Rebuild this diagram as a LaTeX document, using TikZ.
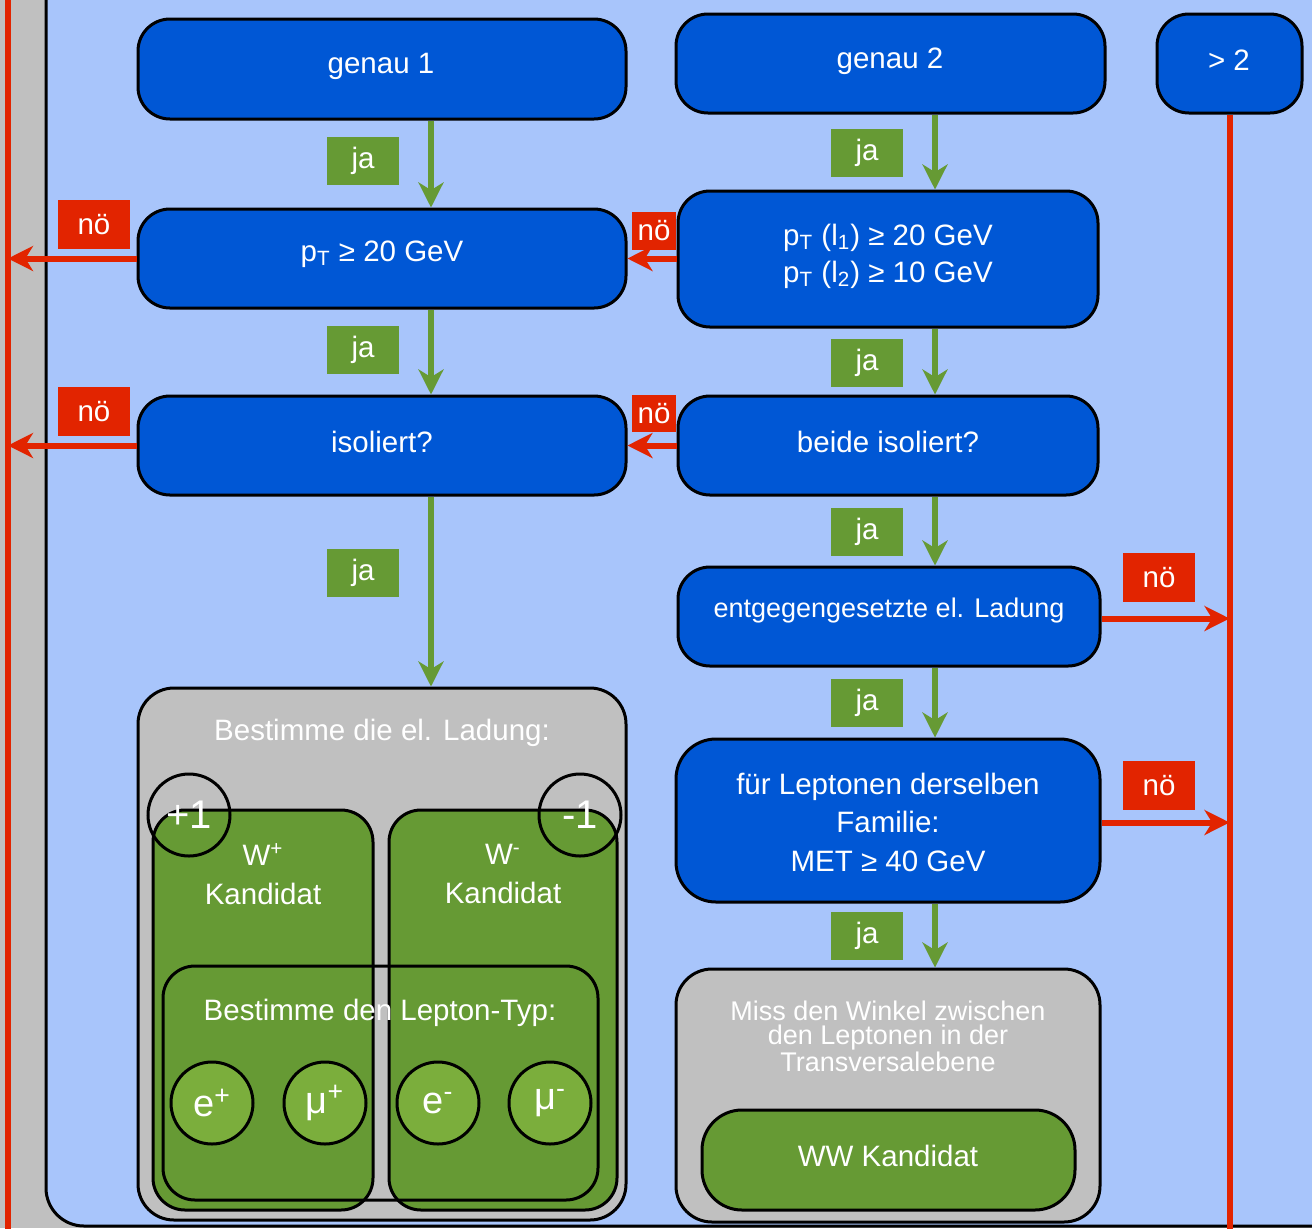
\documentclass[tikz,border=0pt]{standalone}
\usepackage{fontspec}
\setmainfont{Liberation Sans}
\usetikzlibrary{arrows.meta}
\definecolor{bgblue}{HTML}{A8C5FB}
\definecolor{nblue}{HTML}{0057D5}
\definecolor{ngreen}{HTML}{669A34}
\definecolor{lgreen}{HTML}{7BAE3C}
\definecolor{nred}{HTML}{E22400}
\definecolor{ngrey}{HTML}{C0C0C0}
\begin{document}
\begin{tikzpicture}[x=0.5pt,y=-0.5pt,
  box/.style={draw=black, line width=1.5pt, rounded corners=16pt, inner sep=0pt},
  bluebox/.style={box, fill=nblue},
  greybox/.style={box, fill=ngrey, rounded corners=18pt},
  greenbox/.style={box, fill=ngreen},
  openbox/.style={box},
  btext/.style={text=white, font=\fontsize{14.75}{19.25}\selectfont, align=center, inner sep=0pt},
  jalabel/.style={fill=ngreen, text=white, font=\fontsize{14.75}{17}\selectfont, minimum width=36pt, minimum height=24pt, inner sep=0pt},
  nolabel/.style={fill=nred, text=white, font=\fontsize{14.75}{17}\selectfont, minimum width=36pt, minimum height=24.5pt, inner sep=0pt},
  smallno/.style={fill=nred, text=white, font=\fontsize{14.75}{17}\selectfont, minimum width=22pt, minimum height=19pt, inner sep=0pt},
  ring/.style={circle, draw=black, line width=1.5pt, minimum size=41pt, inner sep=0pt, text=white, font=\fontsize{20}{22}\selectfont},
  lepton/.style={ring, fill=lgreen, font=\fontsize{19}{21}\selectfont},
  tip/.style={-{Stealth[length=12.5pt,width=12.5pt,inset=3.8pt]}},
  garrow/.style={tip, draw=ngreen, line width=3pt},
  rarrow/.style={tip, draw=nred, line width=3pt},
  rline/.style={draw=nred, line width=3pt}
]
\useasboundingbox (0,0) rectangle (1312,1228);
\clip (0,0) rectangle (1312,1228);
\fill[ngrey] (0,0) rectangle (1312,1228);
% main frame
\draw[line width=1.5pt, fill=bgblue, rounded corners=19pt] (46,-80) rectangle (1420,1226);

\coordinate (Ltop) at (8,-10);
\coordinate (Lbot) at (8,1240);
\coordinate (cl) at (431,0);
\coordinate (cr) at (935,0);
\draw[rline] (Ltop) -- (Lbot);

% left lower grey box
\node[greybox, minimum width=244pt, minimum height=266pt] (best) at (382,954) {};
\node[btext] at (382,733) {Bestimme die el. Ladung:};
\node[greenbox, minimum width=110pt, minimum height=200pt] (wp) at (263,1010) {};
\node[greenbox, minimum width=114pt, minimum height=200pt] (wm) at (503,1010) {};
\node[btext] at (263,874) {W\textsuperscript{+}\\Kandidat};
\node[btext] at (503,874) {W\textsuperscript{-}\\Kandidat};
\node[openbox, minimum width=217.5pt, minimum height=117pt] (lep) at (380.5,1083) {};
\node[btext] at (380,1013) {Bestimme den Lepton-Typ:};
\node[ring] (cp) at (189,815) {+1};
\node[ring] (cm) at (580,815) {-1};
\node[lepton] (ep) at (212,1103) {e\textsuperscript{+}};
\node[lepton] (mp) at (325,1103) {μ\textsuperscript{+}};
\node[lepton] (em) at (438,1103) {e\textsuperscript{-}};
\node[lepton] (mm) at (550,1103) {μ\textsuperscript{-}};

% right lower grey box
\node[greybox, minimum width=212pt, minimum height=126.5pt] (miss) at (888,1095.5) {};
\node[btext, font=\fontsize{13.5}{12}\selectfont] at (888,1036) {Miss den Winkel zwischen\\den Leptonen in der\\Transversalebene};
\node[greenbox, rounded corners=20pt, minimum width=186.5pt, minimum height=50pt] (ww) at (888.5,1160) {};
\node[btext] at (888,1156) {WW Kandidat};

% blue boxes
\node[bluebox, minimum width=244pt, minimum height=50pt] (g1) at (382,69) {};
\node[btext] at (381,66) {genau 1};
\node[bluebox, minimum width=214.5pt, minimum height=49.5pt] (g2) at (890.5,63.5) {};
\node[btext] at (890,61) {genau 2};
\node[bluebox, minimum width=72.5pt, minimum height=49.5pt] (g3) at (1229.5,63.5) {};
\node[btext] at (1229,60) {> 2};
\node[bluebox, minimum width=244pt, minimum height=49.5pt] (pt1) at (382,258.5) {};
\node[btext] at (382,254) {p\textsubscript{T} ≥ 20 GeV};
\node[bluebox, minimum width=210pt, minimum height=68pt] (pt2) at (888,259) {};
\node[btext, font=\fontsize{14.75}{18.5}\selectfont] at (888,256) {p\textsubscript{T} (l\textsubscript{1}) ≥ 20 GeV\\p\textsubscript{T} (l\textsubscript{2}) ≥ 10 GeV};
\node[bluebox, minimum width=244pt, minimum height=49.5pt] (iso1) at (382,445.5) {};
\node[btext] at (382,442) {isoliert?};
\node[bluebox, minimum width=210pt, minimum height=49.5pt] (iso2) at (888,445.5) {};
\node[btext] at (888,442) {beide isoliert?};
\node[bluebox, minimum width=211pt, minimum height=49.5pt] (lad) at (889,616.5) {};
\node[btext, font=\fontsize{13.5}{16}\selectfont] at (889,611) {entgegengesetzte el. Ladung};
\node[bluebox, rounded corners=20pt, minimum width=212pt, minimum height=81.5pt] (fam) at (888,820.5) {};
\node[btext] at (888,822) {für Leptonen derselben\\Familie:\\MET ≥ 40 GeV};

% green arrows
\draw[garrow] (g1.south -| cl) -- (pt1.north -| cl);
\draw[garrow] (pt1.south -| cl) -- (iso1.north -| cl);
\draw[garrow] (iso1.south -| cl) -- (best.north -| cl);
\draw[garrow] (g2.south -| cr) -- (pt2.north -| cr);
\draw[garrow] (pt2.south -| cr) -- (iso2.north -| cr);
\draw[garrow] (iso2.south -| cr) -- (lad.north -| cr);
\draw[garrow] (lad.south -| cr) -- (fam.north -| cr);
\draw[garrow] (fam.south -| cr) -- (miss.north -| cr);

% red lines and arrows
\coordinate (Rbot) at (1229.5,1240);
\draw[rline] (g3.south) -- (g3.south |- Rbot);
\draw[rarrow] (pt1.west) -- (pt1.west -| Ltop);
\draw[rarrow] (iso1.west) -- (iso1.west -| Ltop);
\draw[rarrow] (pt2.west |- pt1.east) -- (pt1.east);
\draw[rarrow] (iso2.west |- iso1.east) -- (iso1.east);
\draw[rarrow] ([yshift=-1pt]lad.east) -- ([yshift=-1pt]lad.east -| g3.south);
\draw[rarrow] ([yshift=-1pt]fam.east) -- ([yshift=-1pt]fam.east -| g3.south);

% labels
\node[jalabel] (ja1) at (363,161) {ja};
\node[jalabel] (ja2) at (363,350) {ja};
\node[jalabel] (ja3) at (363,573) {ja};
\node[jalabel] (ja4) at (867,153) {ja};
\node[jalabel] (ja5) at (867,363) {ja};
\node[jalabel] (ja6) at (867,532) {ja};
\node[jalabel] (ja7) at (867,703) {ja};
\node[jalabel] (ja8) at (867,936) {ja};
\node[nolabel] (no1) at (94,224.5) {nö};
\node[nolabel] (no2) at (94,411.5) {nö};
\node[nolabel] (no3) at (1159,577.5) {nö};
\node[nolabel] (no4) at (1159,785.5) {nö};
\node[smallno] (no5) at (654,231) {nö};
\node[smallno, minimum height=18.5pt] (no6) at (654,413.5) {nö};
\end{tikzpicture}
\end{document}
